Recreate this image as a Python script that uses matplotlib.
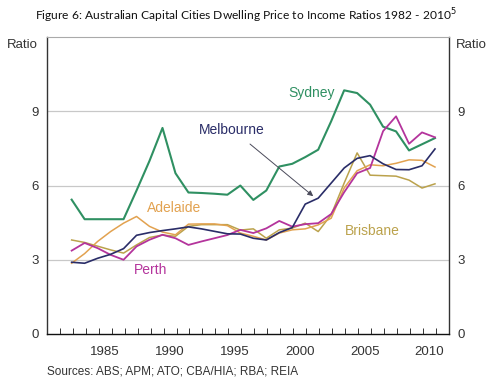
import numpy as np
import matplotlib
matplotlib.use("Agg")
import matplotlib.pyplot as plt

years = np.arange(1982, 2011)

sydney = [5.43, 4.64, 4.64, 4.64, 4.64, 5.8, 7.0, 8.33, 6.5, 5.72,
          5.7, 5.67, 5.63, 6.0, 5.42, 5.8, 6.77, 6.88, 7.15, 7.45,
          8.6, 9.85, 9.74, 9.27, 8.38, 8.19, 7.42, 7.67, 7.92]
melbourne = [2.9, 2.86, 3.06, 3.22, 3.45, 3.99, 4.1, 4.18, 4.25, 4.33,
             4.25, 4.15, 4.05, 4.04, 3.87, 3.8, 4.1, 4.3, 5.25, 5.49,
             6.1, 6.71, 7.1, 7.21, 6.88, 6.65, 6.64, 6.8, 7.48]
perth = [3.37, 3.68, 3.47, 3.2, 3.0, 3.54, 3.81, 4.01, 3.87, 3.6,
         3.74, 3.87, 4.0, 4.21, 4.08, 4.27, 4.57, 4.34, 4.44, 4.48,
         4.85, 5.73, 6.5, 6.71, 8.2, 8.8, 7.69, 8.15, 7.95]
adelaide = [2.86, 3.25, 3.74, 4.14, 4.48, 4.75, 4.35, 4.12, 4.01, 4.44,
            4.45, 4.45, 4.38, 4.08, 3.95, 3.8, 4.08, 4.21, 4.25, 4.41,
            4.68, 5.9, 6.6, 6.84, 6.8, 6.9, 7.04, 7.02, 6.75]
brisbane = [3.8, 3.7, 3.55, 3.4, 3.27, 3.6, 3.9, 4.0, 3.95, 4.35,
            4.42, 4.42, 4.42, 4.2, 4.25, 3.87, 4.21, 4.28, 4.48, 4.14,
            4.82, 6.1, 7.32, 6.42, 6.4, 6.38, 6.22, 5.9, 6.07]

yticks = [0, 3, 6, 9]
xlabels = [1985, 1990, 1995, 2000, 2005, 2010]

c_syd = "#2f9062"
c_mel = "#2a2d68"
c_per = "#b4349c"
c_ade = "#e2a250"
c_bri = "#bba24c"

fig = plt.figure(figsize=(4.92, 3.87), dpi=100)
ax = fig.add_axes([0.095, 0.137, 0.8176, 0.767])

# data sits near the end of each year
x = years + 0.92
ax.plot(x, sydney, color=c_syd, lw=1.5)
ax.plot(x, brisbane, color=c_bri, lw=1.1)
ax.plot(x, adelaide, color=c_ade, lw=1.1)
ax.plot(x, perth, color=c_per, lw=1.3)
ax.plot(x, melbourne, color=c_mel, lw=1.2)

ax.set_xlim(1981, 2012)
ax.set_ylim(0, 12)

for v in yticks[1:]:
    ax.axhline(v, color="#c8c8c8", lw=0.9, zorder=0)

ax.set_yticks(yticks)
ax.tick_params(axis="y", length=0, labelsize=9.5, colors="#333333", pad=6,
               labelright=True, right=False)
ax.set_xticks([y + 0.5 for y in xlabels])
ax.set_xticklabels([str(y) for y in xlabels])
ax.set_xticks(np.arange(1982, 2012), minor=True)
ax.tick_params(axis="x", which="major", length=0, labelsize=9.5,
               colors="#333333", pad=9)
ax.tick_params(axis="x", which="minor", direction="in", length=4,
               width=0.7, color="#333333")
for lab in ax.get_yticklabels() + ax.get_xticklabels():
    lab.set_fontfamily("Liberation Sans")

ax.spines["top"].set_color("#aaaaaa")
ax.spines["top"].set_linewidth(0.8)
ax.spines["left"].set_color("#333333")
ax.spines["right"].set_color("#333333")
ax.spines["bottom"].set_color("#111111")
for s in ["left", "right", "bottom"]:
    ax.spines[s].set_linewidth(1.0)

lf = dict(fontsize=10, family="Liberation Sans", ha="center", va="center")
ax.text(1990.8, 5.1, "Adelaide", color=c_ade, **lf)
ax.text(2006.1, 4.17, "Brisbane", color=c_bri, **lf)
ax.text(1989.0, 2.6, "Perth", color=c_per, **lf)
ax.text(2001.4, 9.75, "Sydney", color=c_syd, **lf)
ax.text(1995.25, 8.25, "Melbourne", color=c_mel, **lf)
ax.annotate("", xy=(2001.7, 5.5), xytext=(1996.5, 7.75),
            arrowprops=dict(arrowstyle="-|>", color="#4a4a5a", lw=0.7,
                            mutation_scale=8))

fig.text(0.045, 0.885, "Ratio", fontsize=9.5, family="Liberation Sans",
         color="#333333", ha="center", va="center")
fig.text(0.958, 0.885, "Ratio", fontsize=9.5, family="Liberation Sans",
         color="#333333", ha="center", va="center")
fig.text(0.5, 0.96, "Figure 6: Australian Capital Cities Dwelling Price to Income Ratios 1982 - 2010$^5$",
         fontsize=8.65, family="Lato", color="#111111", ha="center", va="center")
fig.text(0.095, 0.04, "Sources: ABS; APM; ATO; CBA/HIA; RBA; REIA",
         fontsize=8.5, family="Liberation Sans", color="#333333",
         ha="left", va="center")

plt.savefig("out.png", dpi=100)
